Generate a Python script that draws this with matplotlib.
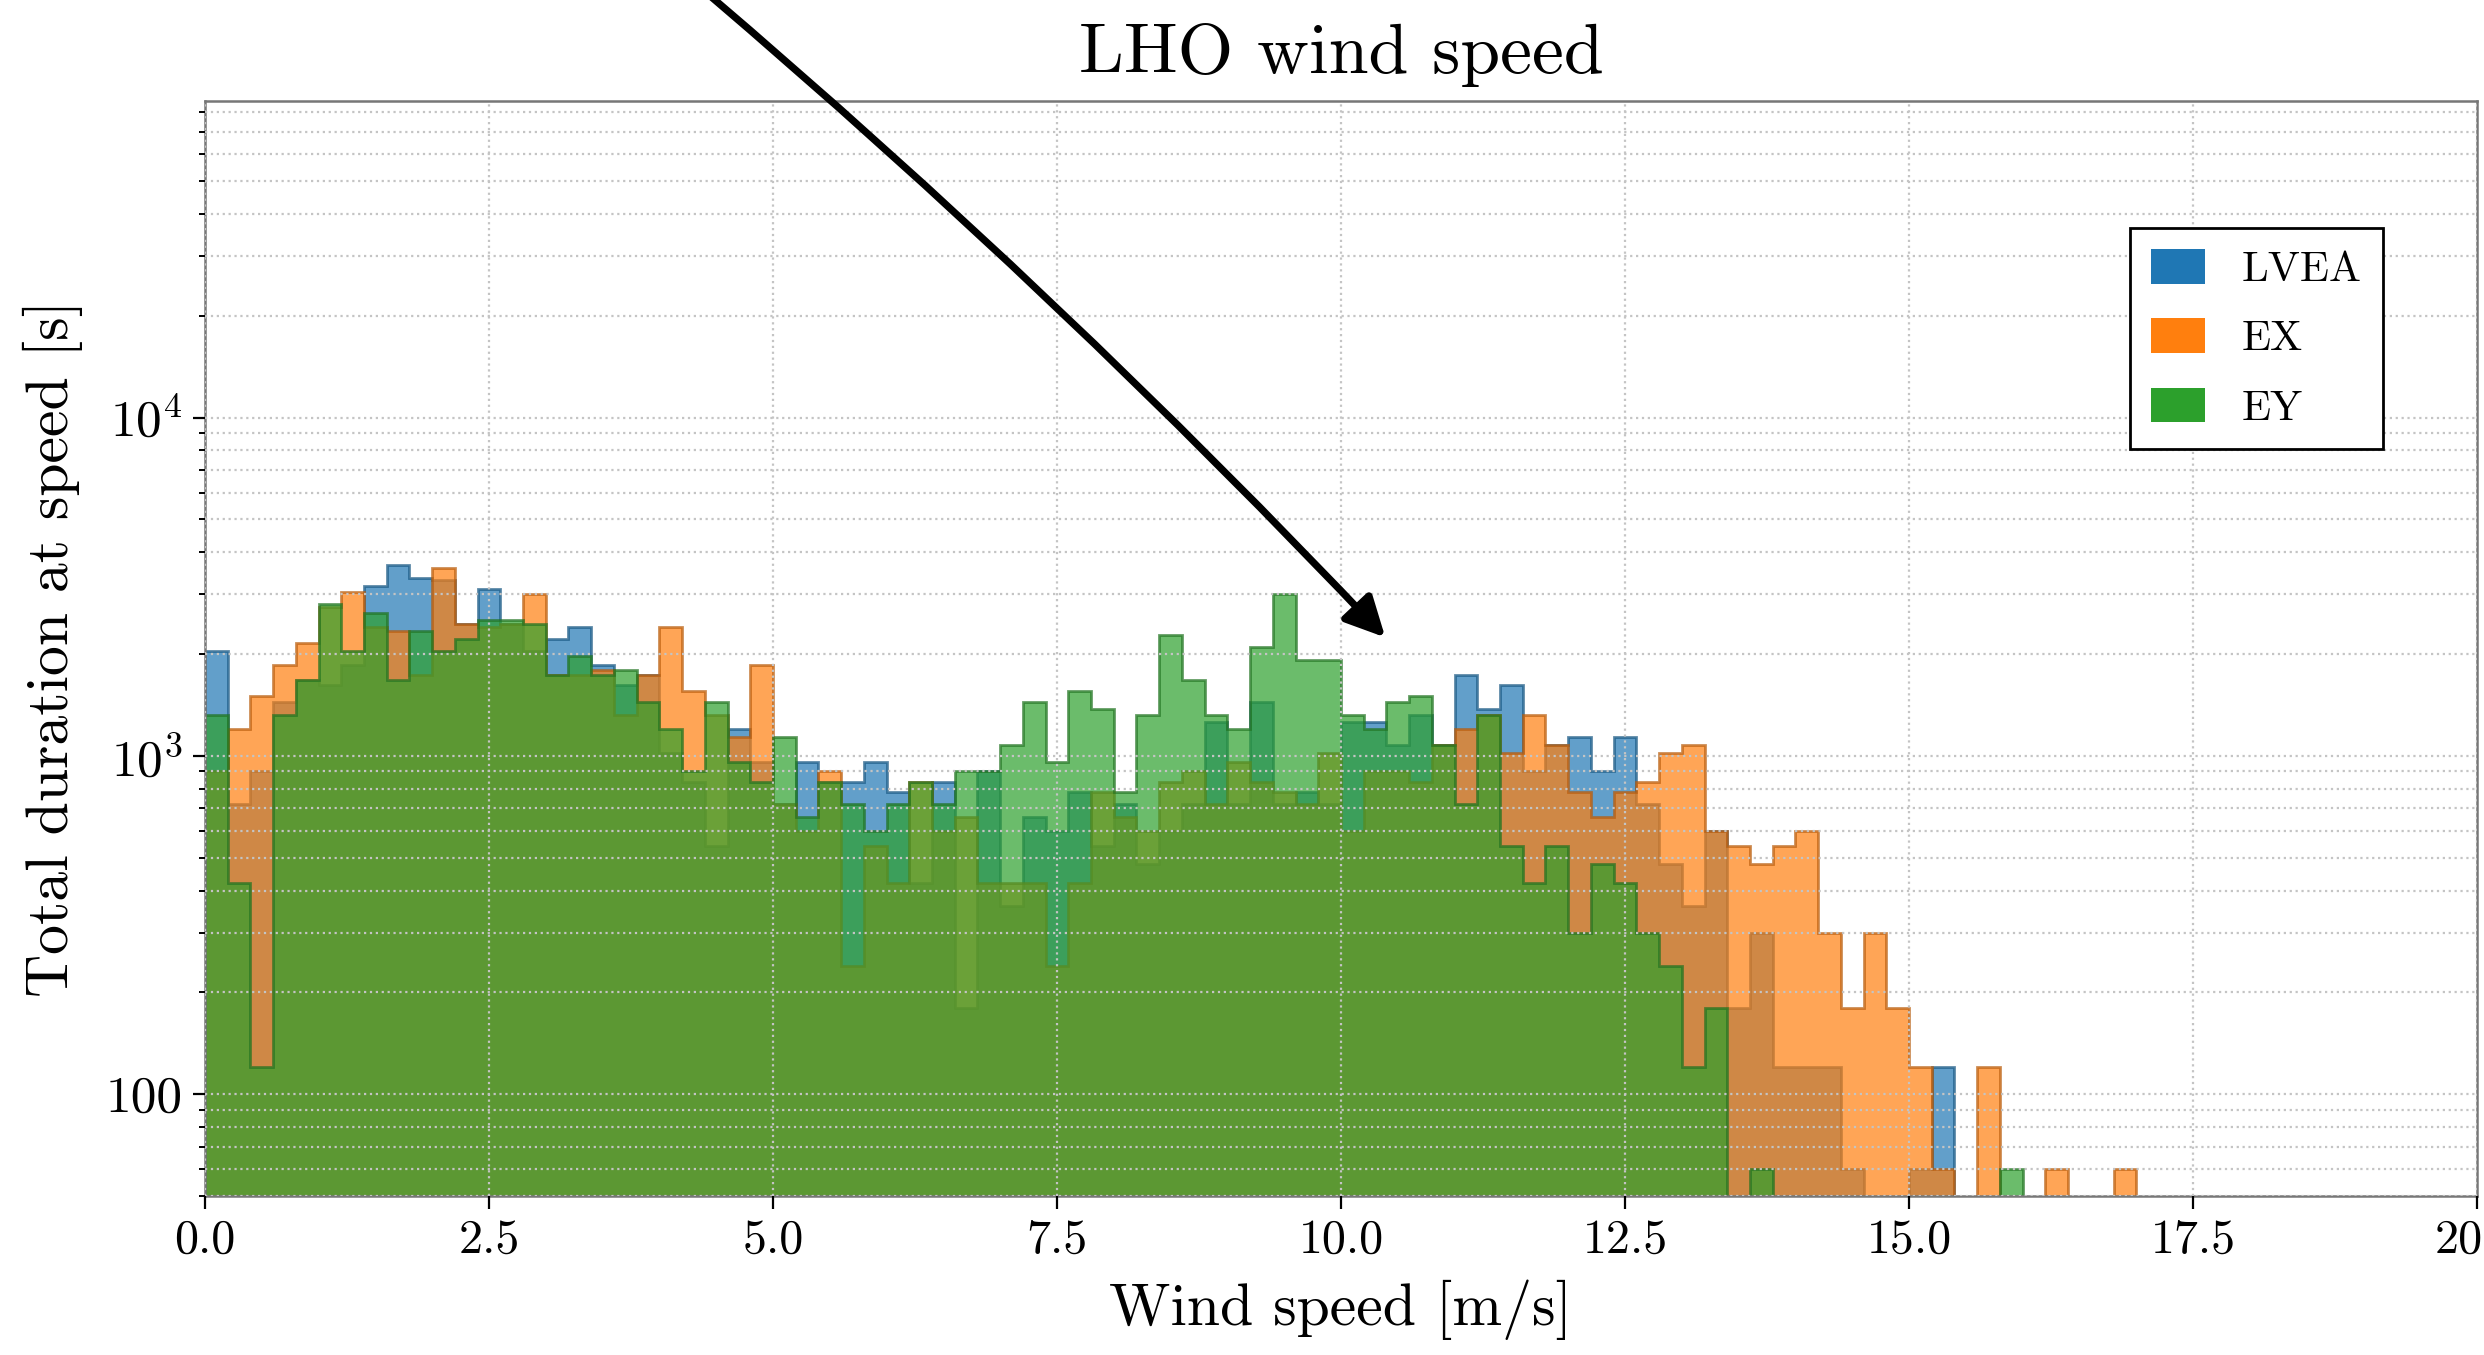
import numpy as np
import matplotlib
matplotlib.use("Agg")
import matplotlib.pyplot as plt
from matplotlib.patches import Patch
from matplotlib.ticker import FixedLocator, FixedFormatter, LogLocator, NullFormatter
from matplotlib.colors import to_rgb

# ---------------- data (total seconds per 0.2 m/s bin) ----------------
bin_edges = np.linspace(0.0, 20.0, 101)

lvea = [2040, 720, 900, 1440, 1680, 1620, 1860, 3180, 3660, 3360,
        3300, 2460, 3120, 2460, 2040, 2220, 2400, 1860, 1620, 1740,
        1020, 840, 540, 1200, 960, 720, 960, 840, 840, 960,
        780, 420, 840, 180, 900, 360, 660, 600, 780, 540,
        720, 480, 600, 720, 1260, 720, 1440, 720, 780, 720,
        1260, 1260, 1080, 1320, 1080, 1740, 1380, 1620, 900, 1080,
        1140, 900, 1140, 720, 480, 360, 600, 180, 300, 120,
        120, 120, 60, 0, 0, 60, 120, 0, 0, 0,
        0, 0, 0, 0, 0]

ex = [900, 1200, 1500, 1860, 2160, 2760, 3060, 2400, 2340, 1740,
      3600, 2460, 2400, 2460, 3000, 1740, 1740, 1800, 1320, 1740,
      2400, 1560, 1320, 1140, 1860, 720, 600, 900, 240, 540,
      420, 840, 600, 660, 420, 420, 420, 240, 420, 780,
      660, 600, 840, 900, 720, 960, 840, 780, 720, 1020,
      600, 900, 900, 840, 1080, 1200, 1320, 1020, 1320, 1080,
      780, 660, 780, 840, 1020, 1080, 600, 540, 480, 540,
      600, 300, 180, 300, 180, 120, 60, 0, 120, 0,
      0, 60, 0, 0, 60]

ey = [1320, 420, 120, 1320, 1680, 2820, 2040, 2640, 1680, 2340,
      2040, 2220, 2520, 2520, 2460, 1740, 1980, 1740, 1800, 1440,
      1200, 900, 1440, 960, 840, 1140, 660, 840, 720, 600,
      720, 840, 720, 900, 900, 1080, 1440, 960, 1560, 1380,
      780, 1320, 2280, 1680, 1320, 1200, 2100, 3000, 1920, 1920,
      1320, 1200, 1440, 1500, 1080, 720, 1320, 540, 420, 540,
      300, 480, 420, 300, 240, 120, 180, 0, 60, 0,
      0, 0, 0, 0, 0, 0, 0, 0, 0, 60,
      0, 0, 0, 0, 0]

series = [("LVEA", lvea, "#1f77b4"), ("EX", ex, "#ff7f0e"), ("EY", ey, "#2ca02c")]

x_ticks = [0.0, 2.5, 5.0, 7.5, 10.0, 12.5, 15.0, 17.5, 20.0]
x_tick_labels = ["0.0", "2.5", "5.0", "7.5", "10.0", "12.5", "15.0", "17.5", "20.0"]
y_ticks = [100, 1000, 10000]
y_tick_labels = ["100", r"$10^3$", r"$10^4$"]

arrow_tip = (10.39, 2240)

# ---------------- style ----------------
plt.rcParams["font.family"] = "serif"
plt.rcParams["font.serif"] = ["cmr10"]
plt.rcParams["mathtext.fontset"] = "cm"
plt.rcParams["axes.formatter.use_mathtext"] = True

fig = plt.figure(figsize=(12.42, 6.775), dpi=200)
ax = fig.add_axes([0.0825, 0.1173, 0.9147, 0.8082])

centers = 0.5 * (bin_edges[:-1] + bin_edges[1:])
for label, vals, col in series:
    w = np.zeros(len(centers))
    w[:len(vals)] = vals
    dark = tuple(c * 0.72 for c in to_rgb(col))
    ax.hist(centers, bins=bin_edges, weights=w, histtype="stepfilled",
            alpha=0.7, facecolor=col, edgecolor=dark, linewidth=1.0,
            log=True, zorder=2)

ax.set_yscale("log")
ax.set_xlim(0, 20)
ax.set_ylim(50, 86300)

ax.xaxis.set_major_locator(FixedLocator(x_ticks))
ax.xaxis.set_major_formatter(FixedFormatter(x_tick_labels))
ax.yaxis.set_major_locator(FixedLocator(y_ticks))
ax.yaxis.set_major_formatter(FixedFormatter(y_tick_labels))
ax.yaxis.set_minor_locator(LogLocator(base=10, subs=np.arange(2, 10), numticks=20))
ax.yaxis.set_minor_formatter(NullFormatter())

ax.tick_params(axis="x", which="major", labelsize=17.3, length=4.5, width=0.8,
               direction="out", color="black")
ax.tick_params(axis="y", which="major", labelsize=18.5, length=4.5, width=0.8,
               direction="out", color="black")
ax.tick_params(axis="y", which="minor", length=2.2, width=0.7, direction="out")

ax.grid(True, axis="x", which="major", linestyle=":", color="#c4c4c4", linewidth=0.8, zorder=0)
ax.grid(True, axis="y", which="both", linestyle=":", color="#c4c4c4", linewidth=0.8, zorder=0)
ax.set_axisbelow(False)
for sp in ax.spines.values():
    sp.set_color("#777777")
    sp.set_linewidth(0.9)

ax.set_title("LHO wind speed", fontsize=25.8, pad=10)
ax.set_xlabel("Wind speed [m/s]", fontsize=21.5, labelpad=6)
ax.set_ylabel("Total duration at speed [s]", fontsize=21.5, labelpad=8)

handles = [Patch(facecolor=col, edgecolor="none", label=label) for label, _, col in series]
leg = ax.legend(handles=handles, loc="upper right", bbox_to_anchor=(0.9586, 0.884),
                borderaxespad=0.0, fontsize=15.4, fancybox=False, framealpha=1.0,
                edgecolor="black", handlelength=1.26, handleheight=0.86,
                handletextpad=0.85, labelspacing=0.68, borderpad=0.5)
leg.get_frame().set_linewidth(1.0)

ax.annotate("", xy=arrow_tip, xycoords="data",
            xytext=(0.284, 1.006), textcoords="figure fraction",
            arrowprops=dict(arrowstyle="-|>", color="black", lw=2.6,
                            mutation_scale=30, shrinkA=0, shrinkB=0,
                            connectionstyle="arc3,rad=-0.027"),
            annotation_clip=False, zorder=5)

fig.savefig("out.png", dpi=200)
